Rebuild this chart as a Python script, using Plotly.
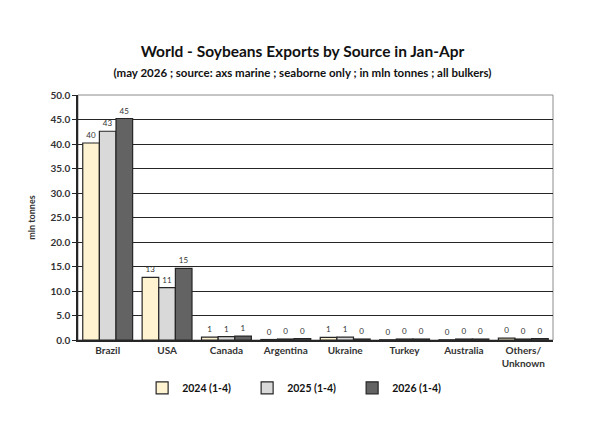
import plotly.graph_objects as go

categories = ["Brazil", "USA", "Canada", "Argentina", "Ukraine", "Turkey",
              "Australia", "Others/<br>Unknown"]
y2024 = [40.2, 12.8, 0.6, 0.1, 0.55, 0.05, 0.05, 0.4]
y2025 = [42.6, 10.7, 0.7, 0.2, 0.6, 0.2, 0.2, 0.2]
y2026 = [45.2, 14.6, 0.8, 0.3, 0.2, 0.2, 0.2, 0.3]
series = [("2024 (1-4)", y2024, "#FFF3D1"),
          ("2025 (1-4)", y2025, "#D9D9D9"),
          ("2026 (1-4)", y2026, "#636363")]

_FONT = dict(family="Lato, 'Open Sans', sans-serif", color="#333333")

fig = go.Figure()
for name, vals, col in series:
    fig.add_trace(go.Bar(
        x=categories, y=vals, name=f"<b>{name}</b>",
        marker=dict(color=col, line=dict(color="#262626", width=1.2)),
        text=[f"{v:.0f}" for v in vals], textposition="outside",
        textfont=dict(size=8, color="#333333"), cliponaxis=False,
    ))

fig.update_layout(
    width=589, height=435,
    paper_bgcolor="white", plot_bgcolor="white",
    font=dict(**_FONT, size=10),
    title=dict(
        text="<b>World - Soybeans Exports by Source in Jan-Apr</b><br>"
             "<span style='font-size:11.5px'><b>(may 2026 ; source: axs marine ; "
             "seaborne only ; in mln tonnes ; all bulkers)</b></span>",
        x=0.5, xanchor="center", y=0.888, yanchor="middle",
        font=dict(size=15.5, color="#111111", family=_FONT["family"]),
    ),
    barmode="group", bargap=0.16, bargroupgap=0,
    margin=dict(l=70, r=44, t=87, b=103, autoexpand=False),
    showlegend=True,
    legend=dict(orientation="h", x=0.135, xanchor="left", y=-0.136, yanchor="top",
                font=dict(size=10.5, color="#111111"), itemwidth=30,
                entrywidth=60, entrywidthmode="pixels", traceorder="normal"),
    uniformtext=dict(minsize=8, mode="show"),
)
fig.update_yaxes(
    range=[0, 50], dtick=5, tickformat=".1f", automargin=False,
    showgrid=True, gridcolor="#262626", gridwidth=1,
    showline=True, linecolor="#262626", linewidth=1.5, mirror=False,
    ticks="outside", ticklen=4, tickcolor="#262626",
    tickprefix="<b>", ticksuffix="</b>",
    tickfont=dict(size=10, color="#333333"),
    title=dict(text="<b>mln tonnes</b>", font=dict(size=9, color="#333333"),
               standoff=13),
    zeroline=False,
)
fig.update_xaxes(
    showline=True, linecolor="#262626", linewidth=1.5, automargin=False,
    ticks="", tickfont=dict(size=10, color="#333333"),
    tickprefix="<b>", ticksuffix="</b>",
)
# light right/top border of plot area
fig.add_shape(type="rect", xref="paper", yref="paper", x0=0, x1=1, y0=0, y1=1,
              line=dict(color="#8C8C8C", width=1), layer="below")

fig.write_html("out.html")
